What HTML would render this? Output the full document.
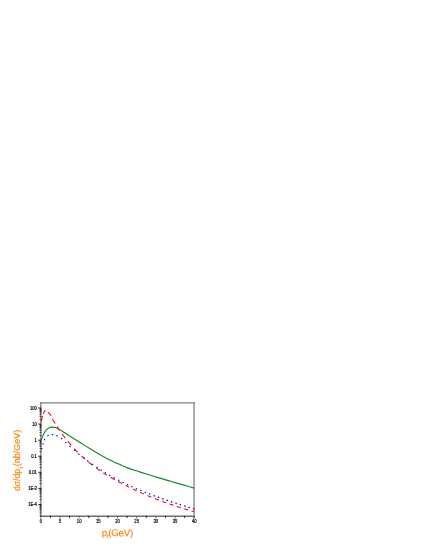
<!DOCTYPE html>
<html><head><meta charset="utf-8"><style>
html,body{margin:0;padding:0;background:#fff}
svg{display:block}
text{font-family:"Liberation Sans",sans-serif}
</style></head><body>
<svg width="426" height="552" viewBox="0 0 426 552">
<rect width="426" height="552" fill="#fff"/>
<g filter="url(#b)">
<g fill="none" stroke="#808080" stroke-width="1.3"><path d="M39.9 402.9H194.7"/><path d="M194.05 402.3V518.4"/><path d="M40.9 402.3V517" stroke="#787878"/></g>
<g fill="none" stroke-width="1.1">
<path d="M41.1 440.3C41.3 439.8 41.8 438.3 42.2 437.3C42.6 436.3 43.1 435.1 43.6 434.1C44.1 433.2 44.5 432.4 45.0 431.6C45.5 430.9 45.8 430.2 46.5 429.6C47.2 429.0 48.4 428.1 49.3 427.7C50.2 427.3 51.2 427.2 52.1 427.1C53.0 427.1 54.0 427.2 54.9 427.4C55.8 427.6 56.9 428.1 57.7 428.5C58.5 428.9 59.0 429.3 59.7 429.7C60.4 430.1 60.9 430.4 62.0 431.1C63.1 431.8 64.6 432.8 66.5 434.0C68.4 435.2 71.0 436.8 73.2 438.2C75.5 439.6 77.3 440.7 80.0 442.4C82.7 444.1 86.3 446.4 89.4 448.3C92.5 450.2 95.7 452.2 98.8 454.0C101.9 455.8 105.1 457.6 108.2 459.2C111.3 460.8 114.5 462.2 117.6 463.6C120.7 465.0 123.8 466.4 126.9 467.6C130.0 468.8 133.2 469.8 136.3 470.8C139.4 471.8 142.0 472.7 145.7 473.8C149.3 474.9 154.5 476.5 158.2 477.6C161.8 478.7 164.5 479.5 167.6 480.4C170.7 481.3 173.8 482.2 176.9 483.1C180.0 484.0 183.4 485.0 186.3 485.8C189.2 486.6 192.9 487.7 194.2 488.1" stroke="#128a22" stroke-width="1.15"/>
<path d="M41.3 421.6L41.4 421.0L41.6 420.0L41.8 418.8L42.0 417.9L42.2 417.1L42.4 416.4L42.6 415.8M43.3 413.9L43.5 413.4L43.8 412.6L44.1 411.9L44.4 411.4L44.8 410.9L45.1 410.5L45.4 410.2M48.0 412.0L48.2 412.3L48.7 412.8L49.2 413.4L49.7 414.0L50.2 414.6L50.7 415.3L51.1 415.8M52.6 419.1L52.8 419.5L53.1 420.1L53.5 420.8L54.0 421.6L54.4 422.3L54.8 422.9L55.2 423.5M57.1 426.5L57.4 426.9L57.7 427.5L58.1 428.1L58.5 428.7L58.9 429.3L59.3 429.9L59.7 430.4M62.3 434.0L62.5 434.4L63.0 435.0L63.4 435.5L63.9 436.2L64.2 436.7L64.7 437.3L65.1 437.8M67.7 441.1L68.0 441.5L68.5 442.2L69.1 442.8L69.7 443.5L70.2 444.1L70.8 444.8L71.2 445.3M74.3 448.7L74.7 449.1L75.2 449.7L75.7 450.2L76.4 450.9L76.9 451.4L77.4 451.9L77.9 452.4M81.4 455.8L81.8 456.2L82.3 456.6L82.7 457.1L83.4 457.6L83.9 458.1L84.4 458.5L84.9 459.0M88.7 462.2L89.0 462.5L89.7 463.0L90.2 463.4L90.8 463.9L91.3 464.3L91.9 464.8L92.4 465.2M96.3 468.1L96.7 468.4L97.2 468.7L97.8 469.2L98.3 469.5L98.9 469.9L99.4 470.3L99.9 470.6M103.3 472.9L103.6 473.1L104.2 473.5L104.8 473.8L105.3 474.1L105.9 474.5L106.5 474.9L107.0 475.2M110.7 477.4L111.1 477.6L111.7 478.0L112.4 478.4L112.9 478.7L113.6 479.1L114.2 479.4L114.7 479.7M118.3 481.7L118.7 481.9L119.2 482.1L119.9 482.5L120.4 482.8L121.1 483.1L121.6 483.4L122.1 483.7M125.7 485.5L126.1 485.7L126.6 485.9L127.2 486.2L127.7 486.5L128.3 486.8L128.8 487.0L129.3 487.3M132.9 489.0L133.3 489.2L133.9 489.5L134.4 489.7L135.0 490.0L135.5 490.2L136.1 490.5L136.6 490.7M140.1 492.3L140.5 492.5L141.1 492.8L141.7 493.0L142.3 493.3L142.8 493.5L143.5 493.8L144.0 494.0M147.5 495.5L147.9 495.7L148.4 495.9L149.1 496.2L149.6 496.4L150.3 496.7L150.9 496.9L151.4 497.1M155.0 498.6L155.4 498.7L156.0 499.0L156.5 499.2L157.2 499.4L157.7 499.6L158.3 499.9L158.8 500.1M162.4 501.4L162.8 501.5L163.4 501.8L163.9 502.0L164.5 502.2L165.0 502.4L165.6 502.6L166.1 502.8M169.6 504.0L170.0 504.1L170.6 504.4L171.2 504.5L171.8 504.8L172.4 504.9L173.0 505.2L173.5 505.3M176.9 506.5L177.3 506.6L177.9 506.8L178.4 507.0L179.1 507.2L179.6 507.3L180.3 507.6L180.8 507.7M184.3 508.8L184.7 508.9L185.3 509.1L185.9 509.3L186.5 509.5L187.0 509.6L187.7 509.8L188.2 510.0M191.6 511.0L191.9 511.1L192.4 511.2L192.9 511.3L193.3 511.4L193.7 511.6L194.0 511.7L194.2 511.7" stroke="#ff0000"/>
<path d="M41.5 449.4L41.9 448.0M42.8 444.7L43.2 443.3M44.2 440.3L44.9 439.1M47.4 435.9L48.6 435.2M51.8 434.6L53.2 434.7M56.3 435.5L57.5 436.1M61.0 438.2L62.1 439.0M65.3 442.2L66.3 443.2M69.4 446.0L70.5 446.9M73.9 449.9L75.0 450.8M78.4 453.7L79.5 454.6M83.0 457.4L84.2 458.2M87.2 460.6L88.4 461.4M91.9 463.9L93.0 464.7M96.4 467.0L97.5 467.8M100.6 469.8L101.8 470.5M104.8 472.4L106.0 473.1M109.2 475.0L110.4 475.7M113.5 477.5L114.8 478.1M118.2 480.0L119.4 480.6M122.5 482.2L123.7 482.8M127.0 484.4L128.2 485.0M131.3 486.4L132.5 487.0M135.8 488.4L137.0 489.0M140.2 490.3L141.4 490.8M144.7 492.1L146.0 492.7M148.9 493.8L150.3 494.3M153.5 495.6L154.9 496.1M157.8 497.1L159.2 497.6M162.1 498.7L163.5 499.1M166.6 500.2L168.0 500.6M170.9 501.6L172.3 502.1M175.4 503.1L176.8 503.5M179.7 504.5L181.1 504.9M184.2 505.9L185.6 506.3M188.5 507.3L189.9 507.7M192.9 508.6L194.3 509.0" stroke="#0000ff" stroke-width="1.2"/>
</g>
<path d="M40.3 515.4H194" fill="none" stroke="#c4c4c4" stroke-width="0.7"/><path d="M40.3 516.3H194.7" fill="none" stroke="#404040" stroke-width="1.1"/>
<g stroke="#000" stroke-width="0.65">
<line x1="38.2" y1="504.47" x2="41.3" y2="504.47" stroke-width="0.8"/>
<line x1="38.2" y1="488.39" x2="41.3" y2="488.39" stroke-width="0.8"/>
<line x1="38.2" y1="472.31" x2="41.3" y2="472.31" stroke-width="0.8"/>
<line x1="38.2" y1="456.23" x2="41.3" y2="456.23" stroke-width="0.8"/>
<line x1="38.2" y1="440.15" x2="41.3" y2="440.15" stroke-width="0.8"/>
<line x1="38.2" y1="424.07" x2="41.3" y2="424.07" stroke-width="0.8"/>
<line x1="38.2" y1="407.99" x2="41.3" y2="407.99" stroke-width="0.8"/>
<line x1="39.5" y1="515.71" x2="41.4" y2="515.71"/>
<line x1="39.5" y1="512.88" x2="41.4" y2="512.88"/>
<line x1="39.5" y1="510.87" x2="41.4" y2="510.87"/>
<line x1="39.5" y1="509.31" x2="41.4" y2="509.31"/>
<line x1="39.5" y1="508.04" x2="41.4" y2="508.04"/>
<line x1="39.5" y1="506.96" x2="41.4" y2="506.96"/>
<line x1="39.5" y1="506.03" x2="41.4" y2="506.03"/>
<line x1="39.5" y1="505.21" x2="41.4" y2="505.21"/>
<line x1="39.5" y1="499.63" x2="41.4" y2="499.63"/>
<line x1="39.5" y1="496.80" x2="41.4" y2="496.80"/>
<line x1="39.5" y1="494.79" x2="41.4" y2="494.79"/>
<line x1="39.5" y1="493.23" x2="41.4" y2="493.23"/>
<line x1="39.5" y1="491.96" x2="41.4" y2="491.96"/>
<line x1="39.5" y1="490.88" x2="41.4" y2="490.88"/>
<line x1="39.5" y1="489.95" x2="41.4" y2="489.95"/>
<line x1="39.5" y1="489.13" x2="41.4" y2="489.13"/>
<line x1="39.5" y1="483.55" x2="41.4" y2="483.55"/>
<line x1="39.5" y1="480.72" x2="41.4" y2="480.72"/>
<line x1="39.5" y1="478.71" x2="41.4" y2="478.71"/>
<line x1="39.5" y1="477.15" x2="41.4" y2="477.15"/>
<line x1="39.5" y1="475.88" x2="41.4" y2="475.88"/>
<line x1="39.5" y1="474.80" x2="41.4" y2="474.80"/>
<line x1="39.5" y1="473.87" x2="41.4" y2="473.87"/>
<line x1="39.5" y1="473.05" x2="41.4" y2="473.05"/>
<line x1="39.5" y1="467.47" x2="41.4" y2="467.47"/>
<line x1="39.5" y1="464.64" x2="41.4" y2="464.64"/>
<line x1="39.5" y1="462.63" x2="41.4" y2="462.63"/>
<line x1="39.5" y1="461.07" x2="41.4" y2="461.07"/>
<line x1="39.5" y1="459.80" x2="41.4" y2="459.80"/>
<line x1="39.5" y1="458.72" x2="41.4" y2="458.72"/>
<line x1="39.5" y1="457.79" x2="41.4" y2="457.79"/>
<line x1="39.5" y1="456.97" x2="41.4" y2="456.97"/>
<line x1="39.5" y1="451.39" x2="41.4" y2="451.39"/>
<line x1="39.5" y1="448.56" x2="41.4" y2="448.56"/>
<line x1="39.5" y1="446.55" x2="41.4" y2="446.55"/>
<line x1="39.5" y1="444.99" x2="41.4" y2="444.99"/>
<line x1="39.5" y1="443.72" x2="41.4" y2="443.72"/>
<line x1="39.5" y1="442.64" x2="41.4" y2="442.64"/>
<line x1="39.5" y1="441.71" x2="41.4" y2="441.71"/>
<line x1="39.5" y1="440.89" x2="41.4" y2="440.89"/>
<line x1="39.5" y1="435.31" x2="41.4" y2="435.31"/>
<line x1="39.5" y1="432.48" x2="41.4" y2="432.48"/>
<line x1="39.5" y1="430.47" x2="41.4" y2="430.47"/>
<line x1="39.5" y1="428.91" x2="41.4" y2="428.91"/>
<line x1="39.5" y1="427.64" x2="41.4" y2="427.64"/>
<line x1="39.5" y1="426.56" x2="41.4" y2="426.56"/>
<line x1="39.5" y1="425.63" x2="41.4" y2="425.63"/>
<line x1="39.5" y1="424.81" x2="41.4" y2="424.81"/>
<line x1="39.5" y1="419.23" x2="41.4" y2="419.23"/>
<line x1="39.5" y1="416.40" x2="41.4" y2="416.40"/>
<line x1="39.5" y1="414.39" x2="41.4" y2="414.39"/>
<line x1="39.5" y1="412.83" x2="41.4" y2="412.83"/>
<line x1="39.5" y1="411.56" x2="41.4" y2="411.56"/>
<line x1="39.5" y1="410.48" x2="41.4" y2="410.48"/>
<line x1="39.5" y1="409.55" x2="41.4" y2="409.55"/>
<line x1="39.5" y1="408.73" x2="41.4" y2="408.73"/>
<line x1="40.80" y1="516.1" x2="40.80" y2="518.7" stroke="#3a3a3a"/>
<line x1="50.39" y1="515.9" x2="50.39" y2="517.9" stroke-width="0.9"/>
<line x1="59.97" y1="516.1" x2="59.97" y2="518.7" stroke="#3a3a3a"/>
<line x1="69.56" y1="515.9" x2="69.56" y2="517.9" stroke-width="0.9"/>
<line x1="79.15" y1="516.1" x2="79.15" y2="518.7" stroke="#3a3a3a"/>
<line x1="88.74" y1="515.9" x2="88.74" y2="517.9" stroke-width="0.9"/>
<line x1="98.32" y1="516.1" x2="98.32" y2="518.7" stroke="#3a3a3a"/>
<line x1="107.91" y1="515.9" x2="107.91" y2="517.9" stroke-width="0.9"/>
<line x1="117.50" y1="516.1" x2="117.50" y2="518.7" stroke="#3a3a3a"/>
<line x1="127.09" y1="515.9" x2="127.09" y2="517.9" stroke-width="0.9"/>
<line x1="136.67" y1="516.1" x2="136.67" y2="518.7" stroke="#3a3a3a"/>
<line x1="146.26" y1="515.9" x2="146.26" y2="517.9" stroke-width="0.9"/>
<line x1="155.85" y1="516.1" x2="155.85" y2="518.7" stroke="#3a3a3a"/>
<line x1="165.44" y1="515.9" x2="165.44" y2="517.9" stroke-width="0.9"/>
<line x1="175.02" y1="516.1" x2="175.02" y2="518.7" stroke="#3a3a3a"/>
<line x1="184.61" y1="515.9" x2="184.61" y2="517.9" stroke-width="0.9"/>
<line x1="194.20" y1="516.1" x2="194.20" y2="518.7" stroke="#3a3a3a"/>
</g>
<g font-size="4.6" fill="#000" stroke="#000" stroke-width="0.2" transform="scale(0.9 1)">
<text x="41.0" y="410.00" text-anchor="end">100</text>
<text x="41.0" y="426.00" text-anchor="end">10</text>
<text x="41.0" y="442.00" text-anchor="end">1</text>
<text x="41.0" y="458.00" text-anchor="end">0.1</text>
<text x="41.0" y="474.00" text-anchor="end">0.01</text>
<text x="41.0" y="490.00" text-anchor="end">1E-3</text>
<text x="41.0" y="506.00" text-anchor="end">1E-4</text>
<text x="45.33" y="523.3" text-anchor="middle">0</text>
<text x="66.64" y="523.3" text-anchor="middle">5</text>
<text x="87.94" y="523.3" text-anchor="middle">10</text>
<text x="109.25" y="523.3" text-anchor="middle">15</text>
<text x="130.56" y="523.3" text-anchor="middle">20</text>
<text x="151.86" y="523.3" text-anchor="middle">25</text>
<text x="173.17" y="523.3" text-anchor="middle">30</text>
<text x="194.47" y="523.3" text-anchor="middle">35</text>
<text x="215.78" y="523.3" text-anchor="middle">40</text>
</g>
<g fill="#ff8000" stroke="#ff8000" stroke-width="0.12" font-size="9.6" transform="translate(101.8 536.1) rotate(0.15)"><text x="0" y="0">p</text><text x="5.25" y="2.7" font-size="6.2">t</text><text x="6.5" y="0" textLength="24.9" lengthAdjust="spacing">(GeV)</text></g>
<g transform="translate(19.6 491.1) rotate(-90) scale(1 0.94)" fill="#ff8000" stroke="#ff8000" stroke-width="0.15"><text x="0" y="0" font-size="9" textLength="22.1" lengthAdjust="spacingAndGlyphs">d&#963;/dp</text><text x="22.7" y="3.2" font-size="5">t</text><text x="24.8" y="0" font-size="9">(nb/GeV)</text></g>
</g>
<defs><filter id="b" x="0" y="0" width="426" height="552" filterUnits="userSpaceOnUse"><feGaussianBlur stdDeviation="0.35"/></filter></defs>
</svg>
</body></html>
